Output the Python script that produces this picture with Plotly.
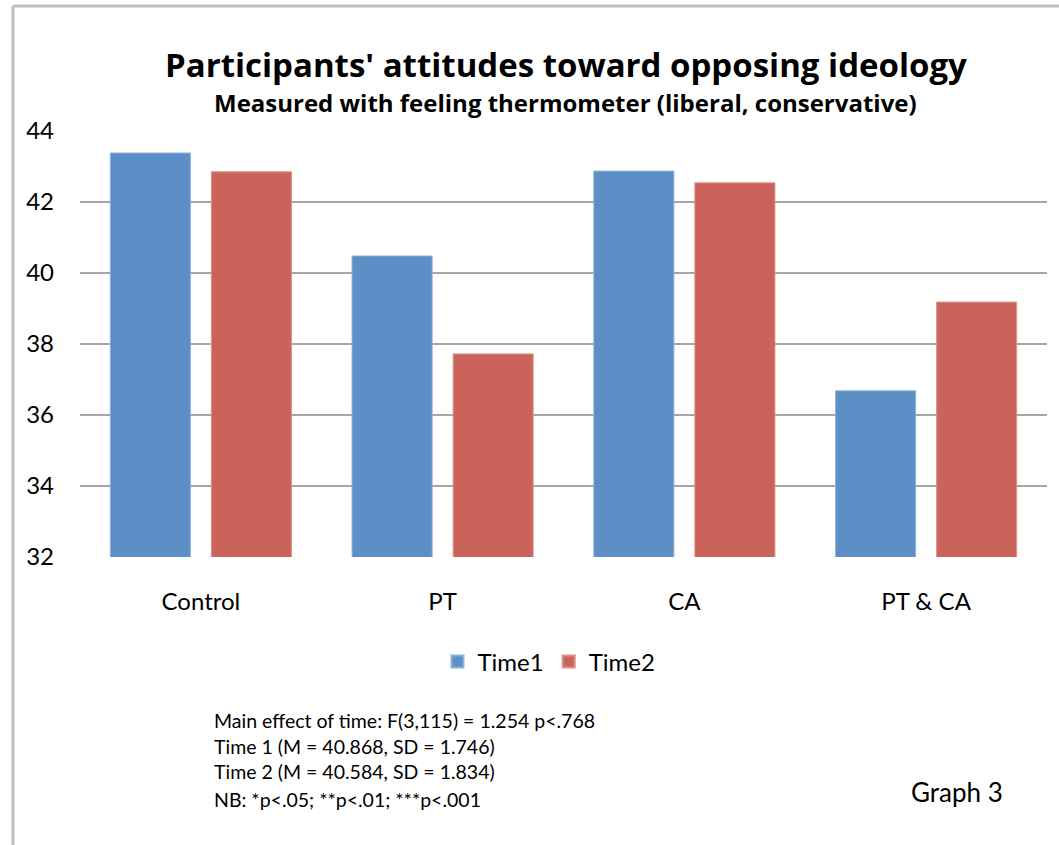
import plotly.graph_objects as go

# Feeling-thermometer means by condition, measured at two time points
conditions = ["Control", "PT", "CA", "PT & CA"]
time1 = [43.38, 40.48, 42.87, 36.68]
time2 = [42.85, 37.72, 42.54, 39.18]
y_ticks = [32, 34, 36, 38, 40, 42, 44]

notes = [
    "Main effect of time: F(3,115) = 1.254 p<.768",
    "Time 1 (M = 40.868, SD = 1.746)",
    "Time 2 (M = 40.584, SD = 1.834)",
    "NB: *p<.05; **p<.01; ***p<.001",
]

FONT = "Lato"
TITLE_FONT = "Open Sans"
BLUE = "#5B8FC5"
RED = "#CA645B"
GRID = "#A6A6A6"

W, H = 1059, 845
L, R, T, B = 80, 12, 131, 288
PW, PH = W - L - R, H - T - B


def px(x):
    return (x - L) / PW


def py(y):
    return (H - B - y) / PH


fig = go.Figure()
fig.add_trace(go.Bar(
    name="Time1", x=conditions, y=time1,
    marker=dict(color=BLUE, line=dict(color="#8CB0DA", width=1)),
))
fig.add_trace(go.Bar(
    name="Time2", x=conditions, y=time2,
    marker=dict(color=RED, line=dict(color="#DE8F88", width=1)),
))

annotations = [
    dict(text="<b>Participants' attitudes toward opposing ideology</b>",
         x=px(566), y=py(64), xref="paper", yref="paper",
         xanchor="center", yanchor="middle", showarrow=False,
         font=dict(family=TITLE_FONT, size=33, color="#000000")),
    dict(text="<b>Measured with feeling thermometer (liberal, conservative)</b>",
         x=px(565), y=py(103), xref="paper", yref="paper",
         xanchor="center", yanchor="middle", showarrow=False,
         font=dict(family=TITLE_FONT, size=24, color="#000000")),
    dict(text="Graph 3", x=px(909), y=py(792), xref="paper", yref="paper",
         xanchor="left", yanchor="middle", showarrow=False,
         font=dict(family=FONT, size=26, color="#000000")),
]
for line, yc in zip(notes, [720, 746, 771, 799]):
    annotations.append(dict(
        text=line, x=px(212), y=py(yc), xref="paper", yref="paper",
        xanchor="left", yanchor="middle", showarrow=False,
        font=dict(family=FONT, size=19.5, color="#000000")))

# Outer chart frame (top and left edges)
shapes = [
    dict(type="line", xref="paper", yref="paper",
         x0=px(13), x1=px(W + 5), y0=py(6), y1=py(6),
         line=dict(color="#BDBDBD", width=3)),
    dict(type="line", xref="paper", yref="paper",
         x0=px(13), x1=px(13), y0=py(6), y1=py(H + 5),
         line=dict(color="#BDBDBD", width=3)),
]

fig.update_layout(
    width=W, height=H,
    margin=dict(l=L, r=R, t=T, b=B, pad=0),
    paper_bgcolor="white", plot_bgcolor="white",
    barmode="group", bargap=0.164, bargroupgap=0.208,
    font=dict(family=FONT, color="#000000"),
    showlegend=True,
    legend=dict(orientation="h", x=px(549), y=py(662),
                xanchor="center", yanchor="middle",
                font=dict(family=FONT, size=24, color="#000000"),
                itemsizing="constant", itemwidth=30),
    annotations=annotations,
    shapes=shapes,
)
fig.update_yaxes(
    range=[32, 44], tickvals=y_ticks, showgrid=True,
    gridcolor=GRID, gridwidth=2, zeroline=False, showline=False,
    tickfont=dict(family=FONT, size=24, color="#000000"),
    ticks="", ticklabelstandoff=25,
)
fig.update_xaxes(
    showline=False, showgrid=False, ticks="",
    tickfont=dict(family=FONT, size=24, color="#000000"),
    ticklabelstandoff=28,
)

fig.write_html("out.html")
